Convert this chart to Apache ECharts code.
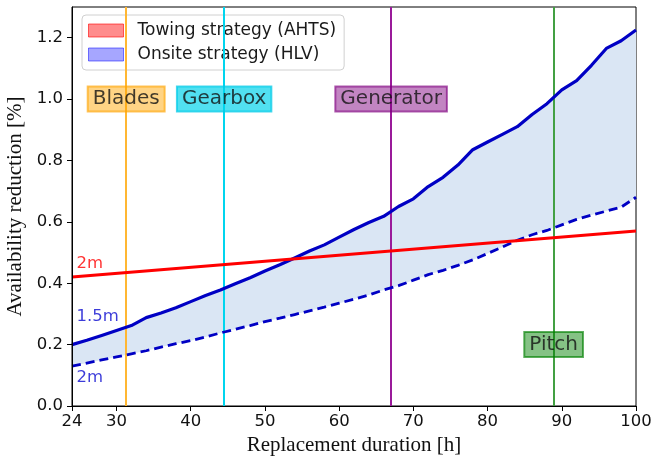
<!DOCTYPE html>
<html><head><meta charset="utf-8">
<script src="https://cdn.jsdelivr.net/npm/echarts@6/dist/echarts.min.js"></script>
<style>html,body{margin:0;padding:0;background:#fff}#c{width:653px;height:462px}</style>
</head><body><div id="c"></div>
<script>
// ---- data ----
const hours = [24,26,28,30,32,34,36,38,40,42,44,46,48,50,52,54,56,58,60,62,64,66,68,70,72,74,76,78,80,82,84,86,88,90,92,94,96,98,100];
const onsite15m = [0.200,0.214,0.230,0.246,0.262,0.288,0.303,0.320,0.340,0.360,0.378,0.398,0.418,0.440,0.460,0.482,0.505,0.525,0.550,0.575,0.598,0.618,0.650,0.675,0.715,0.745,0.785,0.835,0.860,0.885,0.910,0.950,0.985,1.030,1.060,1.110,1.165,1.190,1.225];
const onsite2m = [0.130,0.140,0.150,0.160,0.170,0.180,0.192,0.203,0.213,0.225,0.238,0.250,0.262,0.275,0.286,0.298,0.310,0.322,0.335,0.348,0.362,0.378,0.392,0.410,0.428,0.442,0.458,0.476,0.497,0.518,0.540,0.558,0.572,0.590,0.608,0.622,0.635,0.648,0.680];
const towingHours = [24, 100];
const towing2m = [0.42, 0.57];
const componentNames = ['Blades','Gearbox','Generator','Pitch'];
const componentHours = [31.3, 44.5, 67.0, 88.9];
const componentLabelY = [1.0, 1.0, 1.0, 0.2];
const xTicks = [24,30,40,50,60,70,80,90,100];
const yTicks = [0,0.2,0.4,0.6,0.8,1.0,1.2];
const curveLabels = ['2m','1.5m','2m'];
const curveLabelPos = [[24.6,0.464],[24.6,0.290],[24.6,0.093]];

// ---- styles ----
const compLine = ['#ffb733','#00d5ee','#9a1a9a','#43a043'];
const compBox = ['rgba(255,165,0,0.6)','rgba(0,210,235,0.85)','rgba(128,0,128,0.6)','rgba(0,128,0,0.6)'];
const compBorder = ['rgba(255,165,0,0.8)','rgba(0,200,230,0.9)','rgba(128,0,128,0.8)','rgba(0,128,0,0.8)'];
const labelColors = ['#ff0000','#0a0ad0','#0a0ad0'];
const BLUE = '#0000c4';

const chart = echarts.init(document.getElementById('c'), null, {renderer:'canvas'});
const zip = (a,b) => a.map((v,i)=>[v,b[i]]);

const option = {
  animation:false,
  backgroundColor:'#fff',
  grid:{left:72,right:17,top:7,bottom:56,show:true,borderColor:'#000',borderWidth:1,backgroundColor:'transparent',
        containLabel:false, outerBoundsMode:'none'},
  legend:{
    left:82, top:15, orient:'vertical', padding:[7,8,7,6], itemGap:7,
    itemWidth:35, itemHeight:13,
    backgroundColor:'#fff', borderColor:'#d0d0d0', borderWidth:1, borderRadius:4,
    textStyle:{fontFamily:'DejaVu Sans', fontSize:17, color:'#1a1a1a', padding:[0,0,0,9]},
    data:[
      {name:'Towing strategy (AHTS)', icon:'rect', itemStyle:{color:'rgba(255,0,0,0.45)', borderColor:'rgba(255,0,0,0.6)', borderWidth:1}},
      {name:'Onsite strategy (HLV)', icon:'rect', itemStyle:{color:'rgba(0,0,255,0.35)', borderColor:'rgba(0,0,255,0.5)', borderWidth:1}}
    ]
  },
  xAxis:{
    type:'value', min:24, max:100, z:10,
    name:'Replacement duration [h]', nameLocation:'middle', nameGap:27,
    nameTextStyle:{fontFamily:'Liberation Serif', fontSize:21, color:'#111'},
    axisLine:{show:true,onZero:false,lineStyle:{color:'#000',width:1}},
    axisTick:{show:true,length:5,lineStyle:{color:'#000'},customValues:xTicks},
    axisLabel:{fontFamily:'DejaVu Sans', fontSize:16.5, color:'#111', margin:7, customValues:xTicks},
    splitLine:{show:false}
  },
  yAxis:{
    type:'value', min:0, max:1.3, z:10,
    name:'Availability reduction [%]', nameLocation:'middle', nameGap:37,
    nameTextStyle:{fontFamily:'Liberation Serif', fontSize:21, color:'#111'},
    axisLine:{show:true,onZero:false,lineStyle:{color:'#000',width:1}},
    axisTick:{show:true,length:5,lineStyle:{color:'#000'},customValues:yTicks},
    axisLabel:{fontFamily:'DejaVu Sans', fontSize:16.5, color:'#111', margin:9, customValues:yTicks, formatter:v=>v.toFixed(1)},
    splitLine:{show:false}
  },
  series:[
    {type:'line', name:'Towing strategy (AHTS)', data:[], color:'rgba(255,0,0,0.45)'},
    {type:'line', name:'Onsite strategy (HLV)', data:[], color:'rgba(0,0,255,0.35)'},
    {type:'custom', name:'band', silent:true, z:1,
     data:[[hours[0], onsite2m[0]]],
     renderItem:function(params, api){
       const pts = [];
       for (let i=0;i<hours.length;i++) pts.push(api.coord([hours[i], onsite15m[i]]));
       for (let i=hours.length-1;i>=0;i--) pts.push(api.coord([hours[i], onsite2m[i]]));
       return {type:'polygon', shape:{points:pts}, style:{fill:'#dae6f4', stroke:null}};
     }},
    {type:'line', name:'vlines', data:[], z:3,
     markLine:{symbol:'none', silent:true, label:{show:false},
       data: componentHours.map((h,i)=>({xAxis:h, lineStyle:{color:compLine[i], width:2, type:'solid'}}))}},
    {type:'line', name:'onsite15', data:zip(hours,onsite15m), symbol:'none',
     lineStyle:{color:BLUE, width:3.2, join:'round'}, z:5},
    {type:'line', name:'onsite2', data:zip(hours,onsite2m), symbol:'none',
     lineStyle:{color:BLUE, width:2.8, type:[9,5]}, z:5},
    {type:'line', name:'towing', data:zip(towingHours,towing2m), symbol:'none',
     lineStyle:{color:'#ff0000', width:3}, z:6},
    {type:'scatter', name:'components', symbolSize:0, z:7, silent:true,
     data: componentNames.map((n,i)=>({value:[componentHours[i],componentLabelY[i]], name:n,
       label:{backgroundColor:compBox[i], borderColor:compBorder[i], borderWidth:1}})),
     label:{show:true, position:'inside', formatter:p=>p.name, fontFamily:'DejaVu Sans', fontSize:20,
       color:'#111', padding:[3,5,2,5]}},
    {type:'scatter', name:'curveLabels', symbolSize:0, z:7, silent:true,
     data: curveLabels.map((n,i)=>({value:curveLabelPos[i], name:n, label:{color:labelColors[i]}})),
     label:{show:true, position:'right', distance:0, formatter:p=>p.name, fontFamily:'DejaVu Sans', fontSize:16.5}}
  ]
};
chart.setOption(option);
</script></body></html>
